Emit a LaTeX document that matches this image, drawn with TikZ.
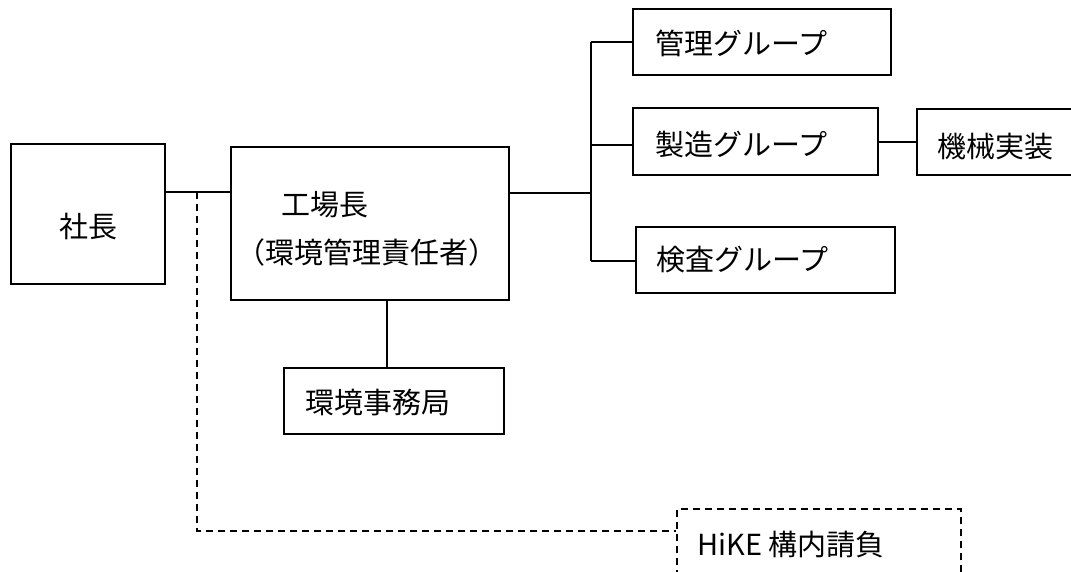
\documentclass[tikz,border=0pt]{standalone}
\usepackage{fontspec}
\setmainfont{Noto Sans CJK JP}
\begin{document}
\begin{tikzpicture}[x=1pt,y=-1pt,
  box/.style={draw,line width=1.9pt,inner sep=0pt,minimum width=#1},
  dbox/.style={draw,line width=1.9pt,inner sep=0pt,dash pattern=on 7pt off 5pt},
  lbl/.style={inner sep=0pt,font=\fontsize{29}{34}\selectfont},
  conn/.style={line width=1.9pt},
  dconn/.style={line width=1.9pt,dash pattern=on 7pt off 5pt}]
\useasboundingbox (0,0) rectangle (1071,572);
\fill[white] (0,0) rectangle (1071,572);
% boxes
\node[box=154pt,minimum height=140pt] (shacho) at (88,214) {};
\node[box=278pt,minimum height=153pt] (kojo) at (370,223.5) {};
\node[box=258pt,minimum height=66pt] (kanri) at (762,42) {};
\node[box=245pt,minimum height=67pt] (seizo) at (755.5,141.5) {};
\node[box=163pt,minimum height=66pt] (kikai) at (998.5,142) {};
\node[box=259pt,minimum height=66pt] (kensa) at (765.5,260) {};
\node[box=220pt,minimum height=66pt] (jimu) at (394,401) {};
\node[dbox,minimum width=284pt,minimum height=91pt] (hike) at (819,554.5) {};
% labels
\node[lbl] (tshacho) at (88,227) {社長};
\node[lbl] (tkojo1) at (324.5,205) {工場長};
\node[lbl] (tkojo2) at (366.5,252) {（環境管理責任者）};
\node[lbl,anchor=west] (tkanri) at (655,43) {管理グループ};
\node[lbl,anchor=west] (tseizo) at (655,145) {製造グループ};
\node[lbl,anchor=west] (tkensa) at (656,260) {検査グループ};
\node[lbl,anchor=west] (tkikai) at (937,147) {機械実装};
\node[lbl,anchor=west] (tjimu) at (305,403) {環境事務局};
\node[lbl,anchor=west] (thike) at (697,545) {HiKE 構内請負};
% junction coordinates
\coordinate (j1) at (197,192);
\coordinate (jd) at (197,531);
\coordinate (bt) at (591,42);
\coordinate (bm) at (591,193);
\coordinate (bs) at (591,145);
\coordinate (bb) at (591,261);
\coordinate (vx) at (387,0);
\coordinate (sk) at (0,142);
% connectors
\draw[conn] (shacho.east |- j1) -- (kojo.west |- j1);
\draw[dconn] (j1) -- (jd) -- (hike.west |- jd);
\draw[conn] (kojo.east |- bm) -- (bm);
\draw[conn] (bt) -- (bb);
\draw[conn] (bt) -- (kanri.west |- bt);
\draw[conn] (bs) -- (seizo.west |- bs);
\draw[conn] (bb) -- (kensa.west |- bb);
\draw[conn] (seizo.east |- sk) -- (kikai.west |- sk);
\draw[conn] (kojo.south -| vx) -- (jimu.north -| vx);
\end{tikzpicture}
\end{document}
